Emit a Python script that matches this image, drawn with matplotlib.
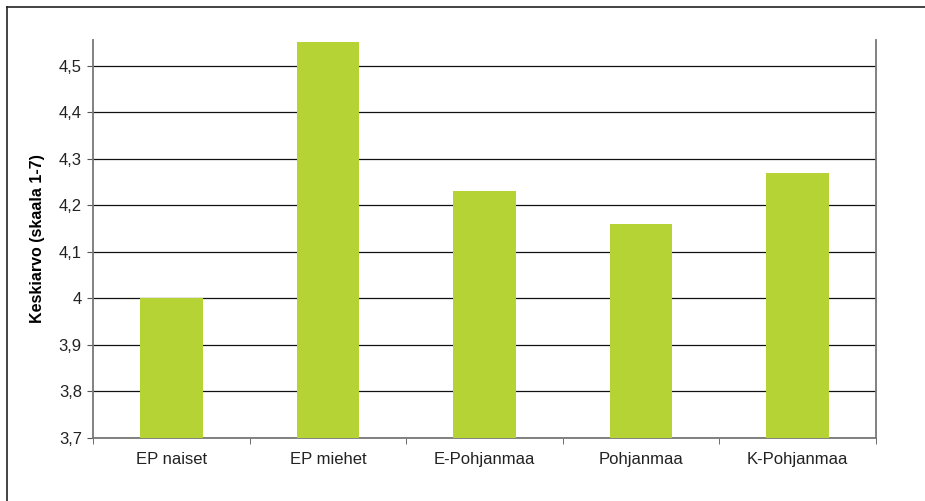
import matplotlib
matplotlib.use("Agg")
import matplotlib.pyplot as plt
from matplotlib.lines import Line2D
import numpy as np

plt.rcParams['font.family'] = ['Liberation Sans', 'DejaVu Sans']

# data
categories = ['EP naiset', 'EP miehet', 'E-Pohjanmaa', 'Pohjanmaa', 'K-Pohjanmaa']
values = [4.00, 4.55, 4.23, 4.16, 4.27]
yticks = [3.7, 3.8, 3.9, 4.0, 4.1, 4.2, 4.3, 4.4, 4.5]
ytick_labels = ['3,7', '3,8', '3,9', '4', '4,1', '4,2', '4,3', '4,4', '4,5']

fig = plt.figure(figsize=(9.25, 5.01), dpi=100)
ax = fig.add_axes([0.1005, 0.1257, 0.8465, 0.7943])

x = np.arange(len(categories))
ax.bar(x, values, width=0.4, color='#b5d334', zorder=3)

ax.set_xlim(-0.5, len(categories) - 0.5)
ax.set_ylim(3.7, 4.555)

# y axis
ax.set_yticks(yticks)
ax.set_yticklabels(ytick_labels, fontsize=12, color='#222222')
ax.yaxis.grid(True, color='#111111', linewidth=0.9, zorder=1)
ax.set_ylabel('Keskiarvo (skaala 1-7)', fontsize=11.5, fontweight='bold', labelpad=10)

# x axis: labels centered, tick marks between categories
ax.set_xticks(x)
ax.set_xticklabels(categories, fontsize=12, color='#222222')
ax.tick_params(axis='x', length=0, pad=10)
ax.set_xticks(np.arange(-0.5, len(categories)), minor=True)
ax.tick_params(axis='x', which='minor', length=4, direction='out', color='#555555')
ax.tick_params(axis='y', length=4, direction='out', color='#555555', pad=4)

for side in ['left', 'bottom', 'right']:
    ax.spines[side].set_color('#777777')
    ax.spines[side].set_linewidth(1.3)
ax.spines['top'].set_visible(False)

# outer frame (top and left visible)
fig.add_artist(Line2D([7 / 925, 7 / 925], [0, 1 - 7 / 501], transform=fig.transFigure,
                      color='#222222', linewidth=1.2))
fig.add_artist(Line2D([7 / 925, 1], [1 - 7 / 501, 1 - 7 / 501], transform=fig.transFigure,
                      color='#222222', linewidth=1.2))

fig.savefig('out.png', dpi=100)
